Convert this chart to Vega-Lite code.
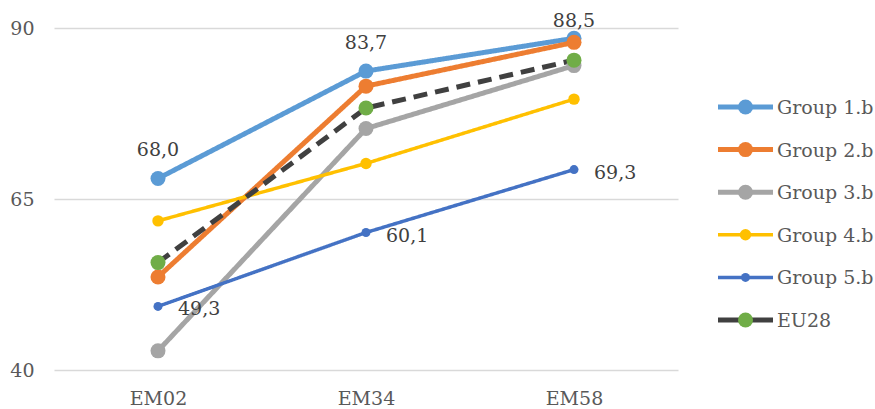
{
  "$schema": "https://vega.github.io/schema/vega-lite/v6.json",
  "padding": {"left": 9, "top": 12, "right": 0, "bottom": 0},
  "bounds": "flush",
  "spacing": 40,
  "config": {
    "font": "DejaVu Serif",
    "view": {"stroke": null},
    "locale": {"number": {"decimal": ",", "thousands": ".", "grouping": [3], "currency": ["", " €"]}}
  },
  "datasets": {
    "scores": [
      {"series": "Group 1.b", "period": "EM02", "value": 68.0},
      {"series": "Group 1.b", "period": "EM34", "value": 83.7},
      {"series": "Group 1.b", "period": "EM58", "value": 88.5},
      {"series": "Group 2.b", "period": "EM02", "value": 53.6},
      {"series": "Group 2.b", "period": "EM34", "value": 81.5},
      {"series": "Group 2.b", "period": "EM58", "value": 87.9},
      {"series": "Group 3.b", "period": "EM02", "value": 42.8},
      {"series": "Group 3.b", "period": "EM34", "value": 75.3},
      {"series": "Group 3.b", "period": "EM58", "value": 84.5},
      {"series": "Group 4.b", "period": "EM02", "value": 61.8},
      {"series": "Group 4.b", "period": "EM34", "value": 70.2},
      {"series": "Group 4.b", "period": "EM58", "value": 79.6},
      {"series": "Group 5.b", "period": "EM02", "value": 49.3},
      {"series": "Group 5.b", "period": "EM34", "value": 60.1},
      {"series": "Group 5.b", "period": "EM58", "value": 69.3},
      {"series": "EU28", "period": "EM02", "value": 55.7},
      {"series": "EU28", "period": "EM34", "value": 78.3},
      {"series": "EU28", "period": "EM58", "value": 85.3}
    ]
  },
  "hconcat": [
    {
      "width": 624,
      "height": 342,
      "data": {"name": "scores"},
      "encoding": {
        "x": {
          "field": "period", "type": "nominal", "sort": ["EM02", "EM34", "EM58"],
          "scale": {"type": "point", "padding": 0.5},
          "axis": {"title": null, "domain": false, "ticks": false, "labelAngle": 0, "labelFont": "DejaVu Serif", "labelFontSize": 19, "labelColor": "#595959", "labelPadding": 19, "grid": false}
        },
        "y": {
          "field": "value", "type": "quantitative",
          "scale": {"domain": [40, 90], "nice": false, "zero": false},
          "axis": {"title": null, "domain": false, "ticks": false, "values": [40, 65, 90], "grid": true, "gridColor": "#D9D9D9", "gridWidth": 1.5, "labelFont": "DejaVu Serif", "labelFontSize": 19, "labelColor": "#595959", "labelPadding": 20}
        }
      },
      "layer": [
        {
          "mark": {"type": "line"},
          "encoding": {
            "detail": {"field": "series"},
            "stroke": {"field": "series", "type": "nominal", "legend": null,
              "scale": {"type": "ordinal", "domain": ["Group 1.b", "Group 2.b", "Group 3.b", "Group 4.b", "Group 5.b", "EU28"], "range": ["#5B9BD5", "#ED7D31", "#A5A5A5", "#FFC000", "#4472C4", "#404040"]}},
            "strokeWidth": {"field": "series", "type": "nominal", "legend": null,
              "scale": {"type": "ordinal", "domain": ["Group 1.b", "Group 2.b", "Group 3.b", "Group 4.b", "Group 5.b", "EU28"], "range": [5, 5, 5, 3.5, 3.5, 5]}},
            "strokeDash": {"field": "series", "type": "nominal", "legend": null,
              "scale": {"type": "ordinal", "domain": ["Group 1.b", "Group 2.b", "Group 3.b", "Group 4.b", "Group 5.b", "EU28"], "range": [[1, 0], [1, 0], [1, 0], [1, 0], [1, 0], [14, 8]]}}
          }
        },
        {
          "mark": {"type": "point", "filled": true, "opacity": 1},
          "encoding": {
            "fill": {"field": "series", "type": "nominal", "legend": null,
              "scale": {"type": "ordinal", "domain": ["Group 1.b", "Group 2.b", "Group 3.b", "Group 4.b", "Group 5.b", "EU28"], "range": ["#5B9BD5", "#ED7D31", "#A5A5A5", "#FFC000", "#4472C4", "#70AD47"]}},
            "size": {"field": "series", "type": "nominal", "legend": null,
              "scale": {"type": "ordinal", "domain": ["Group 1.b", "Group 2.b", "Group 3.b", "Group 4.b", "Group 5.b", "EU28"], "range": [225, 225, 225, 130, 81, 225]}}
          }
        },
        {
          "transform": [{"filter": "datum.series === 'Group 1.b' && datum.period !== 'EM58'"}],
          "mark": {"type": "text", "font": "DejaVu Serif", "align": "center", "baseline": "alphabetic", "dy": -22, "fontSize": 19, "color": "#404040"},
          "encoding": {"text": {"field": "value", "type": "quantitative", "format": ".1f"}}
        },
        {
          "transform": [{"filter": "datum.series === 'Group 1.b' && datum.period === 'EM58'"}],
          "mark": {"type": "text", "font": "DejaVu Serif", "align": "center", "baseline": "alphabetic", "dy": -11, "fontSize": 19, "color": "#404040"},
          "encoding": {"text": {"field": "value", "type": "quantitative", "format": ".1f"}}
        },
        {
          "transform": [{"filter": "datum.series === 'Group 5.b'"}],
          "mark": {"type": "text", "font": "DejaVu Serif", "align": "left", "baseline": "alphabetic", "dx": 20, "dy": 9, "fontSize": 19, "color": "#404040"},
          "encoding": {"text": {"field": "value", "type": "quantitative", "format": ".1f"}}
        }
      ]
    },
    {
      "width": 55,
      "height": 371,
      "data": {"name": "scores"},
      "transform": [
        {"filter": "datum.period === 'EM02'"},
        {"window": [{"op": "row_number", "as": "entry"}]}
      ],
      "encoding": {
        "y": {"field": "entry", "type": "quantitative",
          "scale": {"domain": [-0.855, 7.855], "reverse": true, "nice": false, "zero": false}, "axis": null}
      },
      "layer": [
        {
          "mark": {"type": "rule"},
          "encoding": {
            "x": {"datum": 0, "type": "quantitative", "scale": {"domain": [0, 1]}, "axis": null},
            "x2": {"datum": 1},
            "stroke": {"field": "series", "type": "nominal", "legend": null,
              "scale": {"type": "ordinal", "domain": ["Group 1.b", "Group 2.b", "Group 3.b", "Group 4.b", "Group 5.b", "EU28"], "range": ["#5B9BD5", "#ED7D31", "#A5A5A5", "#FFC000", "#4472C4", "#404040"]}},
            "strokeWidth": {"field": "series", "type": "nominal", "legend": null,
              "scale": {"type": "ordinal", "domain": ["Group 1.b", "Group 2.b", "Group 3.b", "Group 4.b", "Group 5.b", "EU28"], "range": [5, 5, 5, 3.5, 3.5, 5]}}
          }
        },
        {
          "mark": {"type": "point", "filled": true, "opacity": 1},
          "encoding": {
            "x": {"datum": 0.5, "type": "quantitative", "scale": {"domain": [0, 1]}, "axis": null},
            "fill": {"field": "series", "type": "nominal", "legend": null,
              "scale": {"type": "ordinal", "domain": ["Group 1.b", "Group 2.b", "Group 3.b", "Group 4.b", "Group 5.b", "EU28"], "range": ["#5B9BD5", "#ED7D31", "#A5A5A5", "#FFC000", "#4472C4", "#70AD47"]}},
            "size": {"field": "series", "type": "nominal", "legend": null,
              "scale": {"type": "ordinal", "domain": ["Group 1.b", "Group 2.b", "Group 3.b", "Group 4.b", "Group 5.b", "EU28"], "range": [225, 225, 225, 130, 81, 225]}}
          }
        },
        {
          "mark": {"type": "text", "font": "DejaVu Serif", "align": "left", "baseline": "middle", "dx": 4, "dy": 1, "fontSize": 19, "color": "#595959"},
          "encoding": {
            "x": {"datum": 1, "type": "quantitative", "scale": {"domain": [0, 1]}, "axis": null},
            "text": {"field": "series"}
          }
        }
      ]
    }
  ]
}
